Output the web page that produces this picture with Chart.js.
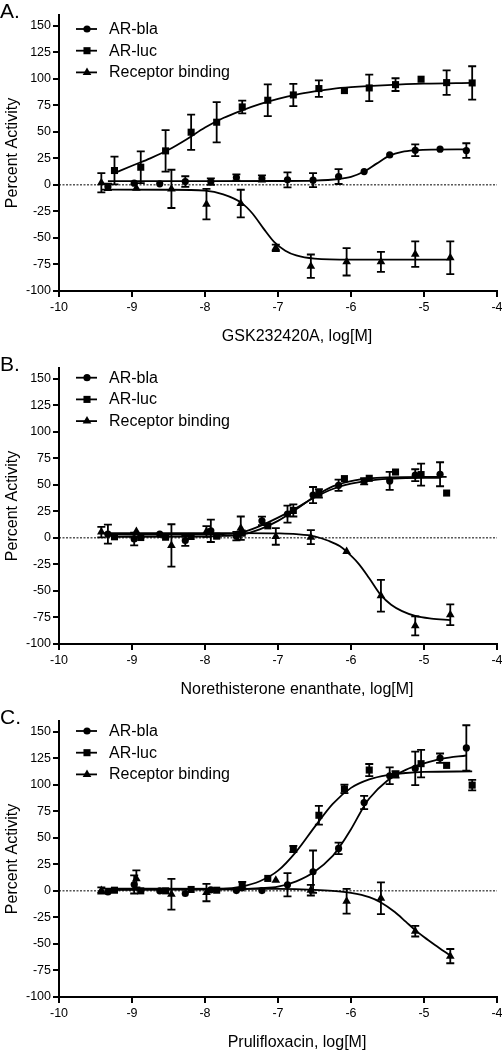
<!DOCTYPE html>
<html>
<head>
<meta charset="utf-8">
<script src="https://cdn.jsdelivr.net/npm/chart.js@4.4.1/dist/chart.umd.min.js"></script>
<style>
  body { margin: 0; background: #fff; overflow: hidden; }
  .panel { position: absolute; left: 0; width: 502px; height: 344px; }
</style>
</head>
<body>
<div class="panel" style="top:0px"><canvas id="chartA" width="502" height="344"></canvas></div>
<div class="panel" style="top:353px"><canvas id="chartB" width="502" height="344"></canvas></div>
<div class="panel" style="top:706px"><canvas id="chartC" width="502" height="344"></canvas></div>
<script>
// axis ticks
var xTicks = [-10, -9, -8, -7, -6, -5, -4];
var yTicks = [-100, -75, -50, -25, 0, 25, 50, 75, 100, 125, 150];
var seriesNames = ['AR-bla', 'AR-luc', 'Receptor binding'];
var zeroLineX = [-10, -4];

// Panel A - GSK232420A
var doseA_bla = [-9.33, -8.97, -8.62, -8.27, -7.92, -7.57, -7.22, -6.87, -6.52, -6.17, -5.82, -5.47, -5.12, -4.78, -4.42];
var blaA = [-1.9, 1.6, 1, 3.1, 3.1, 6.9, 6, 4.7, 4.4, 7.8, 12.5, 28.2, 32.6, 33.6, 32.3];
var blaA_err = [3, 2, 1, 5, 3, 3, 3, 7, 6.6, 7, 1, 1, 5.6, 2, 6.9];
var doseA_luc = [-9.24, -8.88, -8.54, -8.19, -7.84, -7.49, -7.14, -6.79, -6.44, -6.09, -5.75, -5.39, -5.04, -4.69, -4.34];
var lucA = [13.5, 16.6, 32, 49.6, 59, 73.4, 79.7, 84.7, 90.7, 88.8, 91.3, 94.4, 99.5, 96.3, 96];
var lucA_err = [13, 15, 19.5, 16.6, 19, 6, 15, 10.5, 7.8, 2, 12.5, 6, 1, 11.6, 15.7];
var doseA_rb = [-9.42, -8.94, -8.46, -7.98, -7.51, -7.03, -6.55, -6.06, -5.59, -5.12, -4.64];
var rbA = [2, -3.1, -3.8, -18.2, -17.6, -59.3, -76.6, -72.5, -72.5, -65.3, -68.7];
var rbA_err = [9, 2, 18, 14.4, 13, 3, 11, 12.9, 9.4, 12, 15.4];
// fitted curves A
var fitA_bla_x = [-9.33, -8, -7, -6.5, -6.17, -6, -5.82, -5.65, -5.47, -5.3, -5.12, -4.9, -4.42];
var fitA_bla_y = [3.5, 3.5, 3.6, 4, 5.5, 7.5, 12.5, 20, 27.5, 31, 32.5, 33.2, 33.4];
var fitA_luc_x = [-9.24, -9, -8.75, -8.5, -8.25, -8, -7.75, -7.5, -7.25, -7, -6.75, -6.5, -6.25, -6, -5.5, -5, -4.34];
var fitA_luc_y = [11, 18, 25, 33, 43, 54, 63, 70, 76, 81, 85, 88, 90.5, 92, 94, 95.3, 96];
var fitA_rb_x = [-9.42, -8.5, -8, -7.75, -7.5, -7.35, -7.2, -7.05, -6.9, -6.75, -6.5, -6, -4.64];
var fitA_rb_y = [-4.5, -4.6, -5.5, -9, -17, -27, -41, -54, -62, -66.5, -69.5, -70.5, -70.5];

// Panel B - Norethisterone enanthate
var doseB_bla = [-9.33, -8.97, -8.62, -8.27, -7.92, -7.57, -7.22, -6.87, -6.52, -6.17, -5.82, -5.47, -5.12, -4.78];
var blaB = [3.5, -1, 3.5, -2.5, 6.6, 1.6, 16, 22.4, 40.3, 49.5, 53.3, 53.6, 59, 59.9];
var blaB_err = [9, 6, 2, 5, 10.5, 4, 4, 8, 7.6, 5.3, 3, 8.5, 5.6, 11.3];
var doseB_luc = [-9.24, -8.88, -8.54, -8.19, -7.84, -7.49, -7.14, -6.79, -6.44, -6.09, -5.75, -5.39, -5.04, -4.69];
var lucB = [1, 0.3, 0.6, 1.3, 1.6, 4.4, 11.3, 25.8, 41.9, 55.8, 56.1, 62, 59.6, 42.2];
var lucB_err = [1, 1, 1, 1, 1, 1, 1.5, 5.7, 4, 2, 2, 1, 10.4, 2];
var doseB_rb = [-9.42, -8.94, -8.46, -7.98, -7.51, -7.03, -6.55, -6.06, -5.59, -5.12, -4.64];
var rbB = [5.4, 6, -7.2, 6, 9.1, 1.3, 0.6, -12.9, -54.5, -82.9, -72.5];
var rbB_err = [5, 2, 20, 5, 11, 7.8, 6.6, 1, 15, 9, 9.8];
var fitB_bla_x = [-9.33, -8, -7.75, -7.5, -7.25, -7, -6.75, -6.5, -6.25, -6, -5.75, -5.5, -5, -4.78];
var fitB_bla_y = [3, 3, 3.5, 5, 11, 19, 28, 38, 46, 51, 54, 55.5, 56.5, 56.5];
var fitB_luc_x = [-9.24, -8, -7.75, -7.5, -7.25, -7, -6.75, -6.5, -6.25, -6, -5.75, -5.5, -5, -4.69];
var fitB_luc_y = [1, 1.2, 1.8, 3, 8, 16, 27, 39, 48.5, 53.5, 56, 57, 57.5, 57.5];
var fitB_rb_x = [-9.42, -7.5, -7, -6.75, -6.5, -6.3, -6.15, -6.06, -5.9, -5.75, -5.59, -5.45, -5.3, -5.12, -4.9, -4.64];
var fitB_rb_y = [4.5, 4.5, 4.2, 3.5, 1.5, -3, -8, -13, -24, -38, -54, -63, -69, -73.5, -76, -77.5];

// Panel C - Prulifloxacin
var doseC_bla = [-9.33, -8.97, -8.62, -8.27, -7.92, -7.57, -7.22, -6.87, -6.52, -6.17, -5.82, -5.47, -5.12, -4.78, -4.42];
var blaC = [-1, 6, 0, -2.5, 1, 0.3, 0.3, 5.7, 18, 40, 83.2, 108.4, 115.3, 125, 134.6];
var blaC_err = [1, 8.5, 1, 2, 1, 1, 1, 11, 20, 5.4, 6.3, 7.9, 15.8, 4.4, 21.4];
var doseC_luc = [-9.24, -8.88, -8.54, -8.19, -7.84, -7.49, -7.14, -6.79, -6.44, -6.09, -5.75, -5.39, -5.04, -4.69, -4.34];
var lucC = [0.6, 0, 0, 1.3, 0.6, 5.4, 11.7, 39.4, 71.2, 96, 113.8, 109.7, 119.8, 118.2, 99.6];
var lucC_err = [1, 1, 1, 1, 1, 3, 2, 3, 8.8, 4, 5.7, 3, 13, 2, 5];
var doseC_rb = [-9.42, -8.94, -8.46, -7.98, -7.51, -7.03, -6.55, -6.06, -5.59, -5.12, -4.64];
var rbC = [0.3, 11.3, -3.2, -1.6, 2, 10, 0.6, -9.8, -7, -38, -61.5];
var rbC_err = [3, 8, 14.5, 8.2, 2, 1, 5, 11.7, 15, 5, 6.7];
var fitC_bla_x = [-9.33, -7.5, -7.25, -7, -6.75, -6.5, -6.25, -6.17, -6, -5.82, -5.75, -5.5, -5.25, -5, -4.75, -4.42];
var fitC_bla_y = [1, 1.5, 2.5, 4, 9, 18, 33, 40, 58, 80, 87, 104, 114, 120, 124.5, 127.5];
var fitC_luc_x = [-9.24, -7.75, -7.5, -7.25, -7, -6.75, -6.5, -6.25, -6, -5.75, -5.5, -5.25, -5, -4.34];
var fitC_luc_y = [1.5, 2, 4, 9, 19, 37, 60, 82, 97, 105, 109, 111, 112, 112.5];
var fitC_rb_x = [-9.42, -7, -6.5, -6.25, -6, -5.75, -5.59, -5.4, -5.25, -5.12, -5, -4.85, -4.64];
var fitC_rb_y = [2, 1.8, 1, 0, -2, -6, -11, -20, -29, -37, -43.5, -51, -61];

var markerStyles = ['circle', 'rect', 'triangle'];
var markerRadius = [3.6, 5, 5];
var fontFamily = '"Liberation Sans", Arial, sans-serif';

function pts(xs, ys) {
    return xs.map(function(x, i) { return { x: x, y: ys[i] }; });
}

// error bars drawn on top of the point datasets
var errorBarPlugin = {
    id: 'errorBars',
    afterDatasetsDraw: function(chart) {
        var ctx = chart.ctx;
        var yScale = chart.scales.y;
        ctx.save();
        ctx.strokeStyle = '#000';
        ctx.lineWidth = 1.8;
        chart.data.datasets.forEach(function(ds, di) {
            if (!ds.errors) return;
            var meta = chart.getDatasetMeta(di);
            meta.data.forEach(function(el, i) {
                var e = ds.errors[i];
                if (!e || e < 2.5) return;
                var v = ds.data[i].y;
                var top = yScale.getPixelForValue(v + e);
                var bot = yScale.getPixelForValue(v - e);
                ctx.beginPath();
                ctx.moveTo(el.x, top); ctx.lineTo(el.x, bot);
                ctx.moveTo(el.x - 4, top); ctx.lineTo(el.x + 4, top);
                ctx.moveTo(el.x - 4, bot); ctx.lineTo(el.x + 4, bot);
                ctx.stroke();
            });
        });
        ctx.restore();
    }
};

function drawMarker(ctx, style, x, y, r) {
    ctx.beginPath();
    if (style === 'circle') {
        ctx.arc(x, y, r, 0, Math.PI * 2);
    } else if (style === 'rect') {
        var s = r * Math.SQRT1_2;
        ctx.rect(x - s, y - s, 2 * s, 2 * s);
    } else {
        ctx.moveTo(x, y - r);
        ctx.lineTo(x + r * 0.866, y + r * 0.5);
        ctx.lineTo(x - r * 0.866, y + r * 0.5);
        ctx.closePath();
    }
    ctx.fill();
}

// legend, panel letter and x title
var decorPlugin = {
    id: 'decor',
    afterDraw: function(chart) {
        var ctx = chart.ctx;
        var o = chart.options.plugins.decor;
        var left = chart.chartArea.left;
        ctx.save();
        ctx.fillStyle = '#000';
        ctx.strokeStyle = '#000';
        ctx.lineWidth = 1.8;
        ctx.font = '16px ' + fontFamily;
        ctx.textBaseline = 'middle';
        seriesNames.forEach(function(name, i) {
            var y = o.legendTop + i * 21.7;
            ctx.beginPath();
            ctx.moveTo(left + 17, y); ctx.lineTo(left + 38, y);
            ctx.stroke();
            drawMarker(ctx, markerStyles[i], left + 28, y, markerRadius[i]);
            ctx.fillText(name, left + 50, y + 0.5);
        });
        ctx.textAlign = 'center';
        ctx.fillText(o.xTitle, 297, 337);
        ctx.textAlign = 'left';
        ctx.textBaseline = 'alphabetic';
        ctx.font = '21px ' + fontFamily;
        ctx.fillText(o.letter, 0, 18);
        ctx.restore();
    }
};

function makePanel(id, letter, xTitle, legendTop, doses, vals, errs, fitX, fitY) {
    var datasets = [{
        data: pts(zeroLineX, [0, 0]),
        showLine: true,
        borderColor: '#000',
        borderWidth: 1,
        borderDash: [2, 1.5],
        pointRadius: 0,
        order: 5
    }];
    for (var i = 0; i < 3; i++) {
        datasets.push({
            data: pts(fitX[i], fitY[i]),
            showLine: true,
            borderColor: '#000',
            borderWidth: 1.8,
            pointRadius: 0,
            cubicInterpolationMode: 'monotone',
            order: 3
        });
        datasets.push({
            data: pts(doses[i], vals[i]),
            errors: errs[i],
            showLine: false,
            pointStyle: markerStyles[i],
            pointRadius: markerRadius[i],
            pointBackgroundColor: '#000',
            pointBorderColor: '#000',
            pointBorderWidth: 0,
            order: 1
        });
    }
    return new Chart(document.getElementById(id).getContext('2d'), {
        type: 'scatter',
        data: { datasets: datasets },
        options: {
            responsive: false,
            animation: false,
            devicePixelRatio: 1,
            layout: { padding: { top: 15, right: 5, left: 0, bottom: 0 } },
            plugins: {
                legend: { display: false },
                tooltip: { enabled: false },
                decor: { letter: letter, xTitle: xTitle, legendTop: legendTop }
            },
            scales: {
                x: {
                    type: 'linear',
                    min: -10,
                    max: -4,
                    afterBuildTicks: function(s) { s.ticks = xTicks.map(function(v) { return { value: v }; }); },
                    afterFit: function(s) { s.height = 53; s.paddingLeft = 0; s.paddingRight = 0; },
                    ticks: { color: '#000', padding: 3, font: { family: fontFamily, size: 12.5 } },
                    grid: { drawOnChartArea: false, color: '#000', lineWidth: 2, tickLength: 6 },
                    border: { color: '#000', width: 2 }
                },
                y: {
                    type: 'linear',
                    min: -100,
                    max: 160,
                    afterBuildTicks: function(s) { s.ticks = yTicks.map(function(v) { return { value: v }; }); },
                    afterFit: function(s) { s.width = 59; s.paddingTop = 0; s.paddingBottom = 0; },
                    ticks: { color: '#000', padding: 2, font: { family: fontFamily, size: 12.5 } },
                    grid: { drawOnChartArea: false, color: '#000', lineWidth: 2, tickLength: 6 },
                    border: { color: '#000', width: 2 },
                    title: {
                        display: true,
                        text: 'Percent Activity',
                        color: '#000',
                        font: { family: fontFamily, size: 16 },
                        padding: { top: 3, bottom: 4 }
                    }
                }
            }
        },
        plugins: [errorBarPlugin, decorPlugin]
    });
}

makePanel('chartA', 'A.', 'GSK232420A, log[M]', 29,
    [doseA_bla, doseA_luc, doseA_rb], [blaA, lucA, rbA], [blaA_err, lucA_err, rbA_err],
    [fitA_bla_x, fitA_luc_x, fitA_rb_x], [fitA_bla_y, fitA_luc_y, fitA_rb_y]);
makePanel('chartB', 'B.', 'Norethisterone enanthate, log[M]', 24.7,
    [doseB_bla, doseB_luc, doseB_rb], [blaB, lucB, rbB], [blaB_err, lucB_err, rbB_err],
    [fitB_bla_x, fitB_luc_x, fitB_rb_x], [fitB_bla_y, fitB_luc_y, fitB_rb_y]);
makePanel('chartC', 'C.', 'Prulifloxacin, log[M]', 25,
    [doseC_bla, doseC_luc, doseC_rb], [blaC, lucC, rbC], [blaC_err, lucC_err, rbC_err],
    [fitC_bla_x, fitC_luc_x, fitC_rb_x], [fitC_bla_y, fitC_luc_y, fitC_rb_y]);
</script>
</body>
</html>
